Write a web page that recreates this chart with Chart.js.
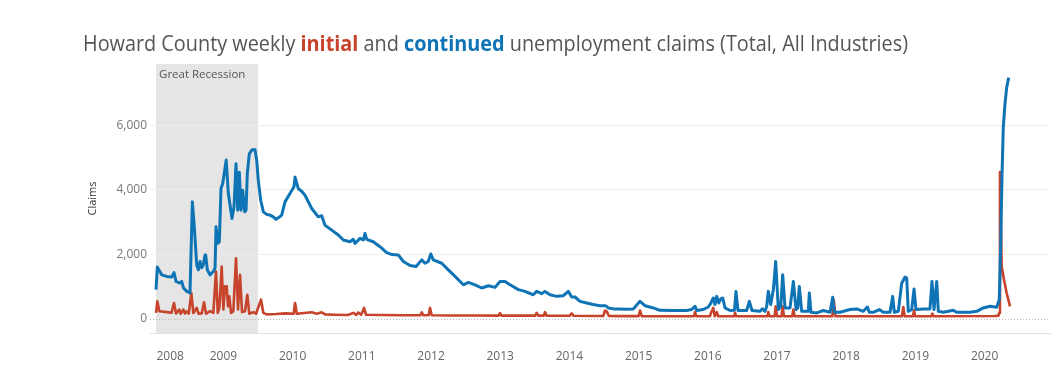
<!DOCTYPE html>
<html>
<head>
<meta charset="utf-8">
<title>Howard County unemployment claims</title>
<script src="https://cdn.jsdelivr.net/npm/chart.js@4.4.1/dist/chart.umd.min.js"></script>
<style>
    html, body { margin: 0; padding: 0; background: #fff; }
    #wrap { position: relative; width: 1057px; height: 372px; }
</style>
</head>
<body>
<div id="wrap"><canvas id="claimsChart"></canvas></div>
<script>
// Weekly continued claims (decimal year of week, claims)
const contWeeks = [
    2008.026, 2008.045, 2008.108, 2008.181, 2008.253, 2008.286, 2008.315, 2008.363, 2008.397, 2008.421,
    2008.470, 2008.517, 2008.551, 2008.579, 2008.614, 2008.637, 2008.662, 2008.686, 2008.710, 2008.734,
    2008.745, 2008.767, 2008.806, 2008.854, 2008.879, 2008.893, 2008.918, 2008.941, 2008.965, 2008.990,
    2009.040, 2009.071, 2009.124, 2009.153, 2009.182, 2009.207, 2009.230, 2009.254, 2009.279, 2009.308,
    2009.327, 2009.345, 2009.374, 2009.413, 2009.457, 2009.481, 2009.504, 2009.539, 2009.577, 2009.626,
    2009.673, 2009.721, 2009.760, 2009.803, 2009.842, 2009.890, 2009.962,
    2010.020, 2010.035, 2010.082, 2010.131, 2010.179, 2010.276, 2010.371, 2010.420, 2010.468, 2010.565,
    2010.660, 2010.733, 2010.829, 2010.877, 2010.902, 2010.974,
    2011.022, 2011.046, 2011.071, 2011.166, 2011.263, 2011.360, 2011.436, 2011.527, 2011.600, 2011.697,
    2011.783, 2011.866, 2011.913, 2011.961, 2011.996,
    2012.033, 2012.155, 2012.250, 2012.347, 2012.467, 2012.539, 2012.636, 2012.733, 2012.828, 2012.925, 2012.997,
    2013.069, 2013.142, 2013.262, 2013.358, 2013.478, 2013.527, 2013.600, 2013.647, 2013.720, 2013.816,
    2013.912, 2013.984,
    2014.033, 2014.081, 2014.153, 2014.250, 2014.345, 2014.442, 2014.514, 2014.539, 2014.562, 2014.634,
    2014.720, 2014.830, 2014.923,
    2015.020, 2015.092, 2015.212, 2015.309, 2015.500, 2015.695, 2015.767, 2015.815, 2015.840, 2015.935,
    2016.007, 2016.046, 2016.079, 2016.104, 2016.129, 2016.157, 2016.187, 2016.215, 2016.249, 2016.321,
    2016.385, 2016.407, 2016.436, 2016.562, 2016.600, 2016.639, 2016.754, 2016.788, 2016.827, 2016.851,
    2016.874, 2016.909, 2016.947, 2016.981,
    2017.019, 2017.054, 2017.082, 2017.116, 2017.188, 2017.236, 2017.275, 2017.300, 2017.322, 2017.357,
    2017.452, 2017.467, 2017.491, 2017.574, 2017.669, 2017.766, 2017.805, 2017.828, 2017.910,
    2018.055, 2018.152, 2018.247, 2018.305, 2018.334, 2018.392, 2018.478, 2018.536, 2018.633, 2018.672,
    2018.695, 2018.753, 2018.802, 2018.850, 2018.874, 2018.897, 2018.947, 2018.980,
    2019.009, 2019.114, 2019.210, 2019.240, 2019.269, 2019.308, 2019.331, 2019.403, 2019.548, 2019.597,
    2019.789, 2019.886, 2019.981,
    2020.078, 2020.175, 2020.212, 2020.233, 2020.251, 2020.270, 2020.294, 2020.319, 2020.348
];
const contClaims = [
    900, 1600, 1360, 1310, 1290, 1430, 1155, 1105, 1155, 960,
    845, 795, 3630, 2855, 1670, 1515, 1775, 1580, 1670, 1980,
    1950, 1515, 1360, 1465, 1570, 2855, 2340, 2390, 4045, 4200,
    4930, 3890, 3115, 3475, 4815, 3370, 4555, 3370, 3990, 3320,
    3370, 4500, 5125, 5250, 5250, 4920, 4300, 3680, 3320, 3240,
    3220, 3165, 3085, 3150, 3220, 3630, 3890,
    4100, 4400, 4040, 3960, 3835, 3425, 3165, 3200, 2905, 2750,
    2600, 2445, 2390, 2465, 2340, 2495,
    2445, 2650, 2465, 2390, 2235, 2050, 1990, 1980, 1775, 1650,
    1620, 1825, 1720, 1775, 2010,
    1825, 1720, 1515, 1310, 1050, 1125, 1050, 950, 1020, 970, 1155,
    1155, 1050, 900, 845, 740, 845, 775, 845, 740, 690,
    710, 845,
    670, 670, 535, 485, 435, 400, 400, 380, 330, 300,
    300, 290, 300,
    535, 400, 330, 255, 250, 250, 280, 380, 250, 280,
    360, 485, 640, 435, 690, 485, 610, 640, 330, 250,
    260, 845, 250, 250, 535, 250, 225, 300, 225, 380,
    845, 435, 900, 1775,
    280, 380, 1360, 330, 330, 1155, 280, 330, 1000, 225,
    225, 795, 195, 175, 250, 195, 660, 195, 195,
    280, 300, 225, 360, 195, 195, 280, 195, 195, 690,
    195, 225, 1100, 1290, 1260, 225, 280, 920,
    280, 300, 300, 1155, 280, 1155, 225, 195, 255, 195,
    195, 225, 330,
    380, 350, 590, 2340, 4400, 5950, 6670, 7185, 7495
];

// Weekly initial claims
const initWeeks = [
    2008.026, 2008.045, 2008.074, 2008.185, 2008.250, 2008.286, 2008.315, 2008.363, 2008.383, 2008.421,
    2008.445, 2008.470, 2008.500, 2008.536, 2008.565, 2008.614, 2008.640, 2008.686, 2008.720, 2008.749,
    2008.806, 2008.854, 2008.893, 2008.918, 2008.941, 2008.975, 2008.999,
    2009.023, 2009.047, 2009.066, 2009.085, 2009.110, 2009.143, 2009.182, 2009.211, 2009.240, 2009.269,
    2009.312, 2009.345, 2009.374, 2009.432, 2009.471, 2009.543, 2009.577, 2009.626, 2009.760, 2009.900,
    2010.015, 2010.035, 2010.060, 2010.204, 2010.276, 2010.350, 2010.420, 2010.470, 2010.600, 2010.800,
    2010.877, 2010.920, 2010.949, 2010.990,
    2011.032, 2011.060, 2011.300, 2011.600, 2011.845, 2011.866, 2011.890, 2011.966, 2011.986, 2012.010,
    2012.300, 2012.600, 2012.980, 2012.997, 2013.020, 2013.300, 2013.505, 2013.527, 2013.551, 2013.630,
    2013.647, 2013.670, 2014.000, 2014.033, 2014.060, 2014.490, 2014.514, 2014.539, 2014.570, 2014.800,
    2015.000, 2015.020, 2015.045, 2015.400, 2015.800, 2015.815, 2015.835, 2016.030, 2016.046, 2016.079,
    2016.100, 2016.129, 2016.150, 2016.380, 2016.393, 2016.410, 2016.860, 2016.874, 2016.890, 2016.965,
    2016.981, 2017.000, 2017.065, 2017.082, 2017.100, 2017.220, 2017.236, 2017.255, 2017.800, 2017.820,
    2017.845, 2018.805, 2018.825, 2018.845, 2018.965, 2018.980, 2018.995, 2019.230, 2019.245, 2019.265,
    2020.150, 2020.200,
    2020.212, 2020.222, 2020.247, 2020.280, 2020.319, 2020.367
];
const initClaims = [
    175, 535, 225, 200, 180, 485, 155, 280, 150, 280,
    155, 225, 155, 795, 175, 330, 150, 160, 505, 150,
    230, 175, 1465, 175, 330, 1620, 280,
    1000, 1000, 380, 690, 175, 225, 1875, 280, 1360, 200,
    225, 740, 150, 200, 150, 590, 175, 130, 140, 160,
    150, 485, 150, 180, 195, 150, 195, 130, 120, 110,
    175, 110, 190, 120,
    330, 120, 110, 100, 100, 190, 100, 100, 330, 100,
    95, 95, 90, 170, 90, 90, 90, 175, 90, 90,
    200, 90, 85, 160, 85, 80, 250, 225, 80, 75,
    75, 250, 75, 70, 70, 200, 70, 70, 180, 330,
    70, 200, 70, 70, 180, 70, 70, 200, 70, 70,
    380, 70, 70, 380, 70, 70, 280, 70, 70, 580,
    70, 70, 360, 70, 70, 255, 70, 70, 150, 70,
    80, 90,
    175, 4555, 1620, 1205, 795, 380
];

// Great Recession ends June 2009; band starts at the first week shown
const recessionEnd = 2009.5;

// Axis ticks (Tableau nudges the first year label inside the axis)
const xTickValues = [2008.23, 2009, 2010, 2011, 2012, 2013, 2014, 2015, 2016, 2017, 2018, 2019, 2020];
const xTickLabels = ['2008', '2009', '2010', '2011', '2012', '2013', '2014', '2015', '2016', '2017', '2018', '2019', '2020'];
const yTickValues = [0, 2000, 4000, 6000];

const colors = {
    initial: '#c8432b',
    continued: '#0f74b6',
    band: '#e5e5e5',
    grid: '#eeeeee',
    text: '#555555'
};

const titleParts = [
    { text: 'Howard County weekly ', color: colors.text, bold: false },
    { text: 'initial', color: colors.initial, bold: true },
    { text: ' and ', color: colors.text, bold: false },
    { text: 'continued', color: colors.continued, bold: true },
    { text: ' unemployment claims (Total, All Industries)', color: colors.text, bold: false }
];

const FONT = '"Open Sans", sans-serif';
Chart.defaults.font.family = FONT;

// Shaded recession band + label, drawn under the grid
const recessionBand = {
    id: 'recessionBand',
    beforeDraw(chart) {
        const { ctx, chartArea, scales } = chart;
        const x0 = scales.x.getPixelForValue(contWeeks[0]);
        const x1 = scales.x.getPixelForValue(recessionEnd);
        ctx.save();
        ctx.fillStyle = colors.band;
        ctx.fillRect(x0, chartArea.top, x1 - x0, chartArea.bottom - chartArea.top);
        ctx.fillStyle = colors.text;
        ctx.font = '11.5px ' + FONT;
        ctx.textBaseline = 'alphabetic';
        ctx.fillText('Great Recession', x0 + 3, chartArea.top + 14);
        ctx.restore();
    }
};

// Dotted zero reference line
const zeroLine = {
    id: 'zeroLine',
    beforeDatasetsDraw(chart) {
        const { ctx, chartArea, scales } = chart;
        const y = Math.round(scales.y.getPixelForValue(0)) + 0.5;
        ctx.save();
        ctx.strokeStyle = '#b5b5b5';
        ctx.lineWidth = 1;
        ctx.setLineDash([1, 2]);
        ctx.beginPath();
        ctx.moveTo(chartArea.left, y);
        ctx.lineTo(chartArea.right, y);
        ctx.stroke();
        ctx.restore();
    }
};

// Multi-colour headline
const headline = {
    id: 'headline',
    afterDraw(chart) {
        const ctx = chart.ctx;
        const size = 22;
        const fontFor = p => (p.bold ? 'bold ' : '') + size + 'px ' + FONT;
        ctx.save();
        let total = 0;
        titleParts.forEach(p => {
            ctx.font = fontFor(p);
            total += ctx.measureText(p.text).width;
        });
        const targetWidth = 825;
        ctx.translate(83, 51);
        ctx.scale(targetWidth / total, 1);
        ctx.textBaseline = 'alphabetic';
        let x = 0;
        titleParts.forEach(p => {
            ctx.font = fontFor(p);
            ctx.fillStyle = p.color;
            ctx.fillText(p.text, x, 0);
            x += ctx.measureText(p.text).width;
        });
        ctx.restore();
    }
};

const toPoints = (xs, ys) => xs.map((x, i) => ({ x: x, y: ys[i] }));

new Chart(document.getElementById('claimsChart'), {
    type: 'line',
    data: {
        datasets: [
            {
                label: 'initial',
                data: toPoints(initWeeks, initClaims),
                borderColor: colors.initial,
                borderWidth: 2.6,
                pointRadius: 0,
                tension: 0,
                borderJoinStyle: 'round',
                order: 2
            },
            {
                label: 'continued',
                data: toPoints(contWeeks, contClaims),
                borderColor: colors.continued,
                borderWidth: 3,
                pointRadius: 0,
                tension: 0,
                borderJoinStyle: 'round',
                order: 1
            }
        ]
    },
    options: {
        responsive: true,
        maintainAspectRatio: false,
        devicePixelRatio: 1,
        animation: false,
        layout: { padding: { top: 64, right: 7, left: 0, bottom: 0 } },
        plugins: {
            legend: { display: false },
            tooltip: { enabled: false }
        },
        scales: {
            x: {
                type: 'linear',
                min: 2007.939,
                max: 2020.945,
                afterFit: s => { s.height = 39; },
                afterBuildTicks: s => { s.ticks = xTickValues.map(v => ({ value: v })); },
                grid: { display: false },
                border: { display: true, color: '#e2e2e2' },
                ticks: {
                    autoSkip: false,
                    maxRotation: 0,
                    padding: 8,
                    color: '#666',
                    font: { size: 12 },
                    callback: (value, index) => xTickLabels[index]
                }
            },
            y: {
                min: -450,
                max: 7920,
                afterFit: s => { s.width = 150; },
                afterBuildTicks: s => { s.ticks = yTickValues.map(v => ({ value: v })); },
                grid: {
                    drawTicks: false,
                    color: ctx => (ctx.tick && ctx.tick.value === 0) ? 'rgba(0,0,0,0)' : colors.grid
                },
                border: { display: false },
                ticks: {
                    padding: 3,
                    color: '#777',
                    font: { size: 12 },
                    callback: value => value.toLocaleString('en-US')
                },
                title: {
                    display: true,
                    text: 'Claims',
                    color: '#333',
                    font: { size: 11 },
                    padding: { top: 86, bottom: 0 }
                }
            }
        }
    },
    plugins: [recessionBand, zeroLine, headline]
});
</script>
</body>
</html>
